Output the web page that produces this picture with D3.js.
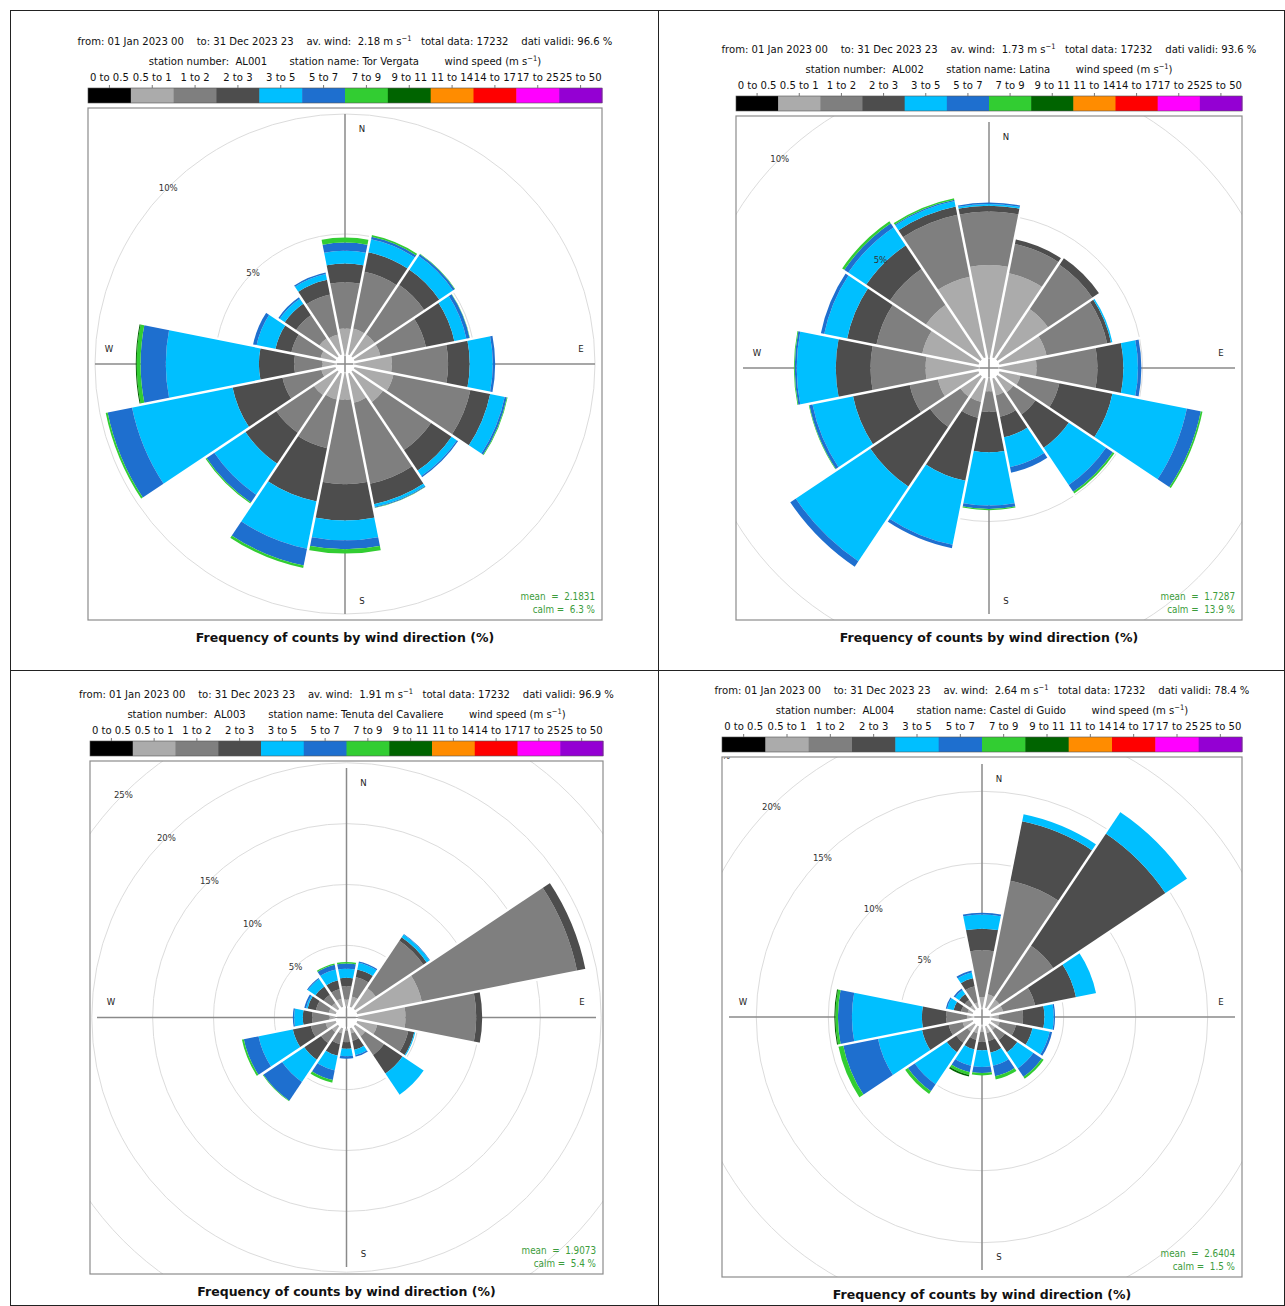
<!DOCTYPE html>
<html>
<head>
<meta charset="utf-8">
<script src="https://cdn.jsdelivr.net/npm/d3@7"></script>
<style>
  body { margin: 0; background: #fff; }
  svg text { font-family: 'DejaVu Sans Condensed', 'DejaVu Sans', sans-serif; white-space: pre; }
</style>
</head>
<body>
<div id="grafico"></div>
<script>
// Direzioni e classi di velocità del vento
const direzioni = ['N','NNE','NE','ENE','E','ESE','SE','SSE','S','SSW','SW','WSW','W','WNW','NW','NNW'];
const classi = ['0 to 0.5','0.5 to 1','1 to 2','2 to 3','3 to 5','5 to 7','7 to 9','9 to 11','11 to 14','14 to 17','17 to 25','25 to 50'];
const colori = ['#000000','#ababab','#7f7f7f','#4d4d4d','#00bfff','#1e6fcf','#32cd32','#006400','#ff8c00','#ff0000','#ff00ff','#9400d3'];

// Intestazioni delle stazioni
const stazioni = ['AL001','AL002','AL003','AL004'];
const nomi = ['Tor Vergata','Latina','Tenuta del Cavaliere','Castel di Guido'];
const periodoDa = '01 Jan 2023 00';
const periodoA = '31 Dec 2023 23';
const ventoMedio = ['2.18','1.73','1.91','2.64'];
const datiTotali = [17232, 17232, 17232, 17232];
const datiValidi = ['96.6','93.6','96.9','78.4'];
const medie = ['2.1831','1.7287','1.9073','2.6404'];
const calme = ['6.3','13.9','5.4','1.5'];
const anelli = [[5,10,15],[5,10,15],[5,10,15,20,25,30],[5,10,15,20,25]];

// Frequenze (%) per direzione: una colonna per classe (0-0.5, 0.5-1, 1-2, 2-3, 3-5, 5-7, 7-9, 9-11)
const freqAL001 = [
  [0,1.06,1.93,0.78,0.53,0.34,0.21],
  [0,1.10,2.41,0.83,0.55,0.11,0.07],
  [0,1.10,2.48,0.76,0.69,0.09,0.02],
  [0,1.10,1.93,1.21,0.51,0.14,0.01],
  [0,1.54,2.34,0.90,0.96,0.10,0],
  [0,1.65,3.27,0.84,0.62,0.09,0.03],
  [0,1.52,2.41,1.03,0.27,0.06,0],
  [0,1.24,3.44,0.87,0.11,0.04,0.01],
  [0,1.07,3.52,1.51,0.83,0.37,0.18],
  [0,1.10,2.07,2.27,2.00,0.71,0.11],
  [0,1.17,1.89,1.55,1.56,0.39,0.05],
  [0,0.60,1.65,2.12,4.27,1.04,0.08],
  [0,0.53,1.17,1.47,3.88,1.05,0.16,0.04],
  [0,0.63,1.24,0.68,0.80,0.15,0],
  [0,0.90,1.17,0.57,0.25,0.07,0],
  [0,0.85,1.70,0.62,0.25,0.06,0]
];
const freqAL002 = [
  [0,3.23,1.87,0.21,0.06,0.05,0],
  [0,3.01,1.05,0.16,0,0,0],
  [0,2.13,1.87,0.28,0,0,0],
  [0,1.68,2.17,0.14,0.05,0,0],
  [0,1.29,2.13,0.91,0.51,0.12,0],
  [0,0.75,1.39,1.90,2.66,0.50,0.06],
  [0,0.67,0.93,1.41,1.57,0.29,0.07],
  [0,0.61,0.76,0.73,1.07,0.20,0],
  [0,0.44,0.71,1.42,1.87,0.12,0.04],
  [0,0.84,0.56,2.26,2.29,0.12,0],
  [0,0.85,1.28,2.52,3.15,0.23,0],
  [0,1.45,1.01,2.03,1.45,0.11,0.02],
  [0,1.84,1.93,1.22,1.37,0.07,0.03],
  [0,2.01,1.64,1.05,0.82,0.12,0],
  [0,2.30,1.52,1.00,0.76,0.17,0.09],
  [0,2.89,2.22,0.29,0.20,0.04,0.06]
];
const freqAL003 = [
  [0,0.55,1.09,0.69,0.74,0.44,0.13],
  [0,0.85,1.64,0.63,0.55,0.11,0],
  [0,2.03,4.71,0.33,0.27,0.06,0],
  [0,5.40,13.00,0.70,0,0,0],
  [0,3.92,5.81,0.49,0,0,0],
  [0,1.67,2.60,0.50,0.08,0,0],
  [0,0.99,1.86,1.83,2.09,0,0],
  [0,0.44,0.60,0.77,0.44,0.13,0],
  [0,0.16,0.94,0.54,0.61,0.22,0],
  [0,0.44,0.88,0.98,1.23,0.80,0.22],
  [0,0.58,1.09,1.65,2.19,1.86,0.05],
  [0,0.85,1.23,1.51,2.88,1.23,0.16],
  [0,0.47,1.42,0.77,0.71,0.11,0],
  [0,0.58,1.09,0.69,0.13,0.14,0],
  [0,0.58,0.82,0.82,0.74,0.08,0],
  [0,0.66,0.82,0.74,0.90,0.39,0.11]
];
const freqAL004 = [
  [0,0.72,3.24,1.50,0.98,0.13,0],
  [0,0.95,8.05,4.20,0.50,0,0],
  [0,0.83,4.50,9.37,1.80,0,0],
  [0,0.83,2.27,2.90,1.42,0,0],
  [0,0.49,1.69,1.48,0.65,0.09,0],
  [0,0.60,1.16,1.16,1.22,0.17,0],
  [0,0.49,0.81,1.04,1.34,0.70,0.16],
  [0,0.49,0.57,0.82,0.92,0.74,0.23],
  [0,0.37,0.69,0.58,1.16,0.42,0.16],
  [0,0.49,0.46,0.69,1.16,0.46,0.19,0.11],
  [0,0.60,0.93,0.81,2.66,0.58,0.23],
  [0,0.72,0.99,1.88,3.12,2.46,0.34],
  [0,0.37,1.44,1.69,4.86,0.97,0.18,0.07],
  [0,0.37,0.46,0.53,0.46,0.09,0],
  [0,0.37,0.46,0.47,0.34,0.12,0],
  [0,0.37,1.16,0.58,0.39,0.14,0]
];
const frequenze = [freqAL001, freqAL002, freqAL003, freqAL004];

// Riquadri dei quattro grafici e scala radiale (raggio del foro, pixel per 1%)
const pannelli = [
  {x0: 88,  y0: 108, x1: 602,  y1: 620,  r0: 10,   rPerc: 24},
  {x0: 736, y0: 116, x1: 1242, y1: 620,  r0: 11,   rPerc: 28.5},
  {x0: 90,  y0: 761, x1: 603,  y1: 1274, r0: 11.3, rPerc: 12.17},
  {x0: 722, y0: 757, x1: 1242, y1: 1277, r0: 9.7,  rPerc: 14.4}
];

const svg = d3.select('#grafico').append('svg')
  .attr('width', 1285).attr('height', 1306);

// Cornice della tabella
svg.append('rect').attr('x', 10.5).attr('y', 10.5).attr('width', 1274).attr('height', 1295)
  .attr('fill', 'none').attr('stroke', '#222');
svg.append('line').attr('x1', 658.5).attr('x2', 658.5).attr('y1', 10).attr('y2', 1306).attr('stroke', '#222');
svg.append('line').attr('x1', 10).attr('x2', 1285).attr('y1', 670.5).attr('y2', 670.5).attr('stroke', '#222');

const angolo = d3.scaleLinear().domain([0, direzioni.length]).range([0, 2 * Math.PI]);

function disegna(i) {
  const p = pannelli[i];
  const dati = frequenze[i];
  const cx = (p.x0 + p.x1) / 2, cy = (p.y0 + p.y1) / 2;
  const mezzo = (p.x1 - p.x0) / 2;
  const r = d3.scaleLinear().domain([0, 1]).range([p.r0, p.r0 + p.rPerc]);
  const g = svg.append('g');

  // Intestazione
  const riga1 = g.append('text').attr('x', cx).attr('y', p.y0 - 63)
    .attr('text-anchor', 'middle').style('font-size', '11.2px').attr('fill', '#111');
  riga1.append('tspan').text(`from: ${periodoDa}    to: ${periodoA}    av. wind:  ${ventoMedio[i]} m s`);
  riga1.append('tspan').attr('dy', -4).style('font-size', '7.5px').text('\u22121');
  riga1.append('tspan').attr('dy', 4).text(`   total data: ${datiTotali[i]}    dati validi: ${datiValidi[i]} %`);

  const riga2 = g.append('text').attr('x', cx).attr('y', p.y0 - 43)
    .attr('text-anchor', 'middle').style('font-size', '11.2px').attr('fill', '#111');
  riga2.append('tspan').text(`station number:  ${stazioni[i]}       station name: ${nomi[i]}        wind speed (m s`);
  riga2.append('tspan').attr('dy', -4).style('font-size', '7.5px').text('\u22121');
  riga2.append('tspan').attr('dy', 4).text(')');

  // Barra dei colori (legenda)
  const xb = d3.scaleBand().domain(classi).range([p.x0, p.x1]);
  g.selectAll('rect.cella').data(classi).join('rect')
    .attr('x', d => xb(d)).attr('y', p.y0 - 20)
    .attr('width', xb.bandwidth() + 0.5).attr('height', 15)
    .attr('fill', (d, k) => colori[k]);
  g.append('rect').attr('x', p.x0).attr('y', p.y0 - 20).attr('width', p.x1 - p.x0).attr('height', 15)
    .attr('fill', 'none').attr('stroke', '#555').attr('stroke-width', 0.6);
  g.selectAll('line.tacca').data(classi).join('line')
    .attr('x1', d => xb(d) + xb.bandwidth() / 2).attr('x2', d => xb(d) + xb.bandwidth() / 2)
    .attr('y1', p.y0 - 23).attr('y2', p.y0 - 20).attr('stroke', '#777');
  g.selectAll('text.classe').data(classi).join('text')
    .attr('x', d => xb(d) + xb.bandwidth() / 2).attr('y', p.y0 - 27)
    .attr('text-anchor', 'middle').style('font-size', '11.2px').attr('fill', '#111')
    .text(d => d);

  // Area del grafico (ritagliata sul riquadro)
  g.append('clipPath').attr('id', 'clip' + i).append('rect')
    .attr('x', p.x0).attr('y', p.y0).attr('width', p.x1 - p.x0).attr('height', p.y1 - p.y0);
  const area = g.append('g').attr('clip-path', `url(#clip${i})`);
  const rosa = area.append('g').attr('transform', `translate(${cx},${cy})`);

  // Cerchi di riferimento
  rosa.selectAll('circle.anello').data(anelli[i]).join('circle')
    .attr('r', d => r(d)).attr('fill', 'none').attr('stroke', '#dcdcdc').attr('stroke-width', 1);

  // Assi N-S e E-W
  const lAsse = mezzo - 7;
  rosa.append('line').attr('x1', -lAsse).attr('x2', lAsse).attr('y1', 0).attr('y2', 0)
    .attr('stroke', '#8a8a8a').attr('stroke-width', 1.5);
  rosa.append('line').attr('x1', 0).attr('x2', 0).attr('y1', -lAsse).attr('y2', lAsse)
    .attr('stroke', '#8a8a8a').attr('stroke-width', 1.5);

  // Settori impilati per classe di velocità
  const segmenti = [];
  dati.forEach((riga, j) => {
    let base = 0;
    riga.forEach((v, k) => {
      if (v > 0) segmenti.push({dir: j, classe: k, da: base, a: base + v});
      base += v;
    });
  });
  const totali = dati.map(riga => d3.sum(riga));

  const arco = d3.arc()
    .innerRadius(d => r(d.da)).outerRadius(d => r(d.a))
    .startAngle(d => angolo(d.dir - 0.5)).endAngle(d => angolo(d.dir + 0.5));

  rosa.selectAll('path.settore').data(segmenti).join('path')
    .attr('d', arco).attr('fill', d => colori[d.classe]);

  // Separazioni bianche fra i settori
  rosa.selectAll('line.gap').data(d3.range(direzioni.length)).join('line')
    .attr('x1', j => (p.r0 - 2) * Math.sin(angolo(j + 0.5)))
    .attr('y1', j => -(p.r0 - 2) * Math.cos(angolo(j + 0.5)))
    .attr('x2', j => (r(Math.max(totali[j], totali[(j + 1) % 16])) + 3) * Math.sin(angolo(j + 0.5)))
    .attr('y2', j => -(r(Math.max(totali[j], totali[(j + 1) % 16])) + 3) * Math.cos(angolo(j + 0.5)))
    .attr('stroke', '#fff').attr('stroke-width', 2.5);

  // Etichette dei cerchi
  rosa.selectAll('text.perc').data(anelli[i]).join('text')
    .attr('x', d => -r(d) * Math.SQRT1_2).attr('y', d => -r(d) * Math.SQRT1_2)
    .attr('text-anchor', 'middle').attr('dominant-baseline', 'central')
    .style('font-size', '9.5px').attr('fill', '#333')
    .text(d => d + '%');

  // Punti cardinali
  const rc = mezzo - 21;
  const cardinali = [['N', 17, -rc], ['E', rc, -16], ['S', 17, rc], ['W', -rc, -16]];
  rosa.selectAll('text.card').data(cardinali).join('text')
    .attr('x', d => d[1]).attr('y', d => d[2])
    .attr('text-anchor', 'middle').attr('dominant-baseline', 'central')
    .style('font-size', '9.5px').attr('fill', '#222')
    .text(d => d[0]);

  // Bordo del riquadro
  g.append('rect').attr('x', p.x0).attr('y', p.y0).attr('width', p.x1 - p.x0).attr('height', p.y1 - p.y0)
    .attr('fill', 'none').attr('stroke', '#8c8c8c').attr('stroke-width', 1.2);

  // Media e calma
  g.append('text').attr('x', p.x1 - 7).attr('y', p.y1 - 20).attr('text-anchor', 'end')
    .style('font-size', '9.8px').attr('fill', '#3c9c3c').text(`mean  =  ${medie[i]}`);
  g.append('text').attr('x', p.x1 - 7).attr('y', p.y1 - 7).attr('text-anchor', 'end')
    .style('font-size', '9.8px').attr('fill', '#3c9c3c').text(`calm =  ${calme[i]} %`);

  // Titolo in basso
  g.append('text').attr('x', cx).attr('y', p.y1 + 22).attr('text-anchor', 'middle')
    .style('font-family', "'DejaVu Sans', sans-serif").style('font-size', '12.5px').style('font-weight', 'bold')
    .attr('fill', '#111').text('Frequency of counts by wind direction (%)');
}

d3.range(4).forEach(disegna);
</script>
</body>
</html>
